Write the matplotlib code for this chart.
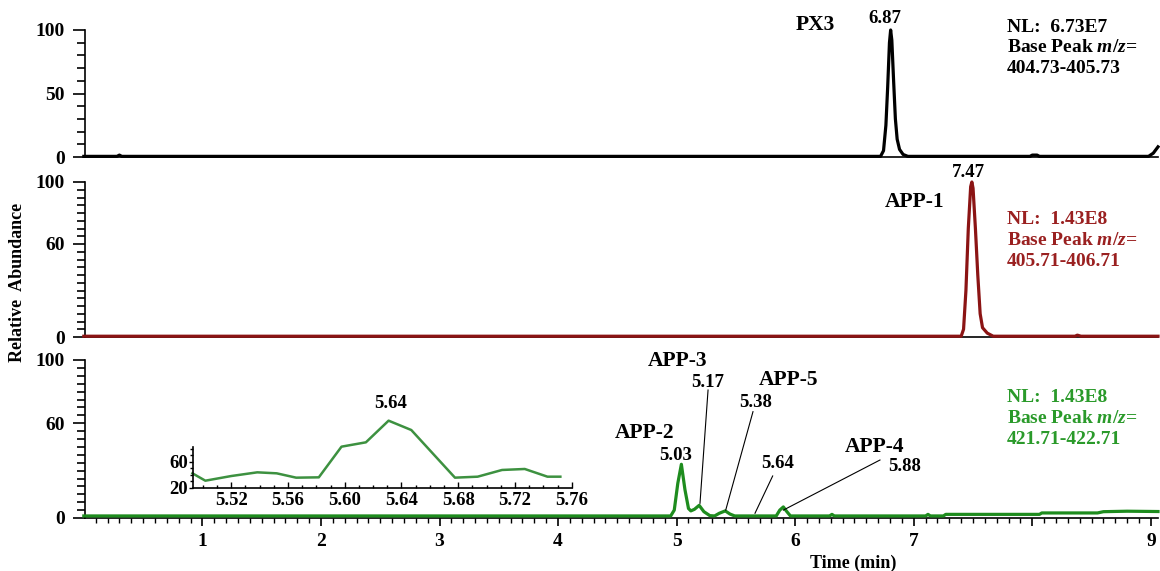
import matplotlib
matplotlib.use("Agg")
import matplotlib.pyplot as plt
from matplotlib.ticker import MultipleLocator, FixedLocator

plt.rcParams['font.family'] = ['Liberation Serif', 'DejaVu Serif']
plt.rcParams['font.weight'] = 'bold'
plt.rcParams['mathtext.fontset'] = 'custom'
plt.rcParams['mathtext.rm'] = 'Liberation Serif:bold'
plt.rcParams['mathtext.it'] = 'Liberation Serif:italic:bold'

# --- chromatogram traces (time in min, relative abundance) ---
px3_t = [0.0, 0.28, 0.30, 0.32, 6.72, 6.745, 6.765, 6.78, 6.795, 6.805, 6.815, 6.83,
         6.845, 6.86, 6.88, 6.91, 6.95, 7.98, 8.00, 8.04, 8.06, 8.98, 9.02, 9.06]
px3_y = [0.5, 0.5, 1.5, 0.5, 0.5, 5, 25, 55, 90, 100, 92, 60,
         30, 14, 6, 2, 0.5, 0.5, 1.5, 1.5, 0.5, 0.5, 3, 8]

app1_t = [0.0, 7.40, 7.42, 7.44, 7.46, 7.48, 7.49, 7.50, 7.52, 7.54, 7.56, 7.58,
          7.62, 7.67, 8.36, 8.38, 8.41, 9.06]
app1_y = [0.5, 0.5, 5, 30, 70, 97, 100, 96, 70, 40, 15, 6,
          2.5, 0.5, 0.5, 1.2, 0.5, 0.5]

app_t = [0.0, 4.95, 4.98, 5.01, 5.04, 5.07, 5.10, 5.12, 5.15, 5.19, 5.23, 5.28,
         5.32, 5.36, 5.41, 5.45, 5.49, 5.84, 5.87, 5.90, 5.93, 5.96, 6.29, 6.31,
         6.33, 7.10, 7.12, 7.14, 7.25, 7.27, 8.06, 8.08, 8.55, 8.60, 8.80, 9.06]
app_y = [1.3, 1.3, 5, 22, 34, 18, 6, 4.5, 5.5, 8, 4, 1.5,
         1.3, 3, 4.5, 2.5, 1.3, 1.3, 5, 7, 4, 1.3, 1.3, 2.3,
         1.3, 1.3, 2.3, 1.3, 1.3, 2.3, 2.3, 3.2, 3.2, 4, 4.3, 4.1]

# zoomed region around the 5.64 peak
inset_t = [5.4926, 5.5017, 5.52, 5.5383, 5.552, 5.5657, 5.5817, 5.5977, 5.6149,
           5.6309, 5.6469, 5.6777, 5.6937, 5.7109, 5.7269, 5.7429, 5.752]
inset_y = [42.3, 31.1, 38.2, 43.8, 42.3, 35.7, 36.2, 82.8, 89.4,
           122.3, 108.1, 35.7, 37.2, 47.4, 48.9, 37.2, 37.2]

time_ticks = [1, 2, 3, 4, 5, 6, 7, 8, 9]
time_labels = ['1', '2', '3', '4', '5', '6', '7', '', '9']
inset_ticks = [5.52, 5.56, 5.60, 5.64, 5.68, 5.72, 5.76]

BLACK = '#000000'
RED = '#8b1414'
RED_TXT = '#9a2020'
GREEN = '#1e8c1e'
GREEN_TXT = '#2a9a2a'

W, H = 1160, 571


def box(left, right, top, bottom):
    # pixel box -> figure fraction rect
    return [left / W, 1 - bottom / H, (right - left) / W, (bottom - top) / H]


fig = plt.figure(figsize=(11.6, 5.71), dpi=100)

ax1 = fig.add_axes(box(85, 1158, 30, 157))
ax2 = fig.add_axes(box(85, 1158, 182, 337))
ax3 = fig.add_axes(box(85, 1158, 360, 518))

panels = [
    (ax1, px3_t, px3_y, BLACK, [0, 50, 100], 10),
    (ax2, app1_t, app1_y, RED, [0, 60, 100], 5),
    (ax3, app_t, app_y, GREEN, [0, 60, 100], 5),
]
for ax, t, y, col, yt, ystep in panels:
    ax.plot(t, y, color=col, lw=2.3, clip_on=False, zorder=3, solid_joinstyle='round')
    ax.set_xlim(0.01, 9.06)
    ax.set_ylim(0, 100)
    ax.set_yticks(yt)
    ax.yaxis.set_minor_locator(MultipleLocator(ystep))
    for s in ['top', 'right']:
        ax.spines[s].set_visible(False)
    ax.spines['left'].set_linewidth(1.2)
    ax.spines['bottom'].set_linewidth(1.2)
    ax.tick_params(axis='y', which='major', direction='out', length=8.5, width=1.2,
                   pad=6, labelsize=14)
    ax.tick_params(axis='y', which='minor', direction='out', length=6, width=1.2)
    ax.patch.set_alpha(0)

for ax in (ax1, ax2):
    ax.set_xticks([])

ax3.set_xticks(time_ticks)
ax3.set_xticklabels(time_labels)
ax3.xaxis.set_minor_locator(MultipleLocator(0.1))
ax3.tick_params(axis='x', which='major', direction='out', length=6, width=1.2,
                pad=5, labelsize=14)
ax3.tick_params(axis='x', which='minor', direction='out', length=3.5, width=1.0)

# peak labels
ax1.text(6.17, 104, 'PX3', fontsize=15.5, ha='center', va='center')
ax1.text(6.76, 109, '6.87', fontsize=13.5, ha='center', va='center')
ax2.text(7.46, 106, '7.47', fontsize=13.5, ha='center', va='center')
ax2.text(7.01, 87, 'APP-1', fontsize=15.5, ha='center', va='center')

ax3.text(4.73, 54, 'APP-2', fontsize=15.5, ha='center', va='center')
ax3.text(4.99, 39.5, '5.03', fontsize=13.5, ha='center', va='center')
ax3.text(5.01, 99.6, 'APP-3', fontsize=15.5, ha='center', va='center', clip_on=False)
ax3.text(5.94, 87.3, 'APP-5', fontsize=15.5, ha='center', va='center')
ax3.text(6.67, 45, 'APP-4', fontsize=15.5, ha='center', va='center')

leaders = [
    ('5.17', (5.265, 85.6), (5.265, 81), (5.197, 9.3)),
    ('5.38', (5.67, 72.8), (5.644, 67.3), (5.414, 5)),
    ('5.64', (5.855, 34.2), (5.81, 26.6), (5.661, 3)),
    ('5.88', (6.926, 32.3), (6.715, 36.7), (5.90, 5)),
]
for lab, lpos, p0, p1 in leaders:
    ax3.text(lpos[0], lpos[1], lab, fontsize=13.5, ha='center', va='center')
    ax3.plot([p0[0], p1[0]], [p0[1], p1[1]], color='black', lw=0.8, zorder=4)

# NL info blocks
info = [
    (27, 'NL:  6.73E7', 'Base Peak $\\mathit{m/z}$=', '404.73-405.73', BLACK),
    (220, 'NL:  1.43E8', 'Base Peak $\\mathit{m/z}$=', '405.71-406.71', RED_TXT),
    (398, 'NL:  1.43E8', 'Base Peak $\\mathit{m/z}$=', '421.71-422.71', GREEN_TXT),
]
for y0, l1, l2, l3, col in info:
    for i, s in enumerate([l1, l2, l3]):
        fig.text(1007 / W, 1 - (y0 + i * 20.7) / H, s, fontsize=14, color=col,
                 ha='left', va='center')

fig.text(18 / W, 1 - 282 / H, 'Relative  Abundance', rotation=90, fontsize=13,
         ha='center', va='center')
fig.text(853 / W, 1 - 563 / H, 'Time (min)', fontsize=13, ha='center', va='center')

# inset
axi = fig.add_axes(box(193, 571.7, 415.6, 488))
axi.plot(inset_t, inset_y, color='#3d9140', lw=1.8, clip_on=False)
axi.set_xlim(5.493, 5.752)
axi.set_ylim(20, 130)
axi.patch.set_alpha(0)
for s in ['top', 'right']:
    axi.spines[s].set_visible(False)
axi.spines['left'].set_bounds(20, 82)
axi.spines['left'].set_linewidth(1.2)
axi.spines['bottom'].set_linewidth(1.2)
axi.set_yticks([20, 60])
axi.yaxis.set_minor_locator(FixedLocator([30, 40, 50, 70, 80]))
axi.set_xticks(inset_ticks)
axi.xaxis.set_minor_locator(MultipleLocator(0.01))
axi.tick_params(axis='y', which='major', direction='out', length=3, width=1.0,
                pad=0.5, labelsize=13.5)
axi.tick_params(axis='y', which='minor', direction='out', length=2, width=1.0)
axi.tick_params(axis='x', which='major', direction='in', length=4, width=1.0,
                pad=3, labelsize=13.5)
axi.tick_params(axis='x', which='minor', direction='in', length=2, width=1.0)
axi.text(5.632, 149, '5.64', fontsize=13.5, ha='center', va='center', clip_on=False)

fig.savefig('out.png', dpi=100)
